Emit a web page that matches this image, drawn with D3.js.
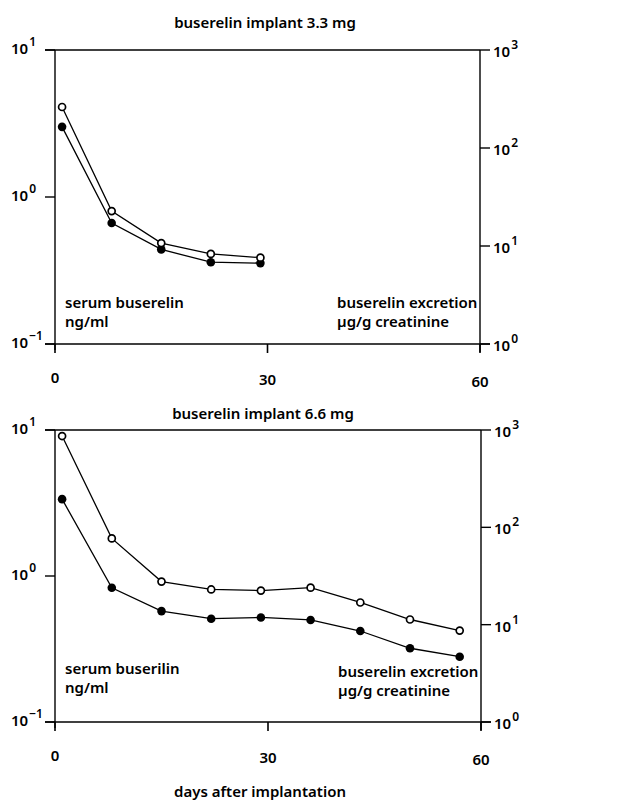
<!DOCTYPE html>
<html>
<head>
<meta charset="utf-8">
<script src="https://cdn.jsdelivr.net/npm/d3@7"></script>
<style>
  body { margin: 0; background: #fff; }
  svg { display: block; }
  text { font-family: "Noto Sans", "DejaVu Sans", sans-serif; fill: #000; font-weight: 600; }
</style>
</head>
<body>
<div id="chart"></div>
<script>
// days of sampling
const days33 = [1, 8, 15, 22, 29];
const days66 = [1, 8, 15, 22, 29, 36, 43, 50, 57];

// serum buserelin, ng/ml (filled circles, left axis)
const serum33 = [3.0, 0.665, 0.44, 0.36, 0.355];
const serum66 = [3.36, 0.83, 0.575, 0.51, 0.52, 0.50, 0.42, 0.32, 0.28];

// buserelin excretion, ug/g creatinine (open circles, right axis)
const excr33 = [262, 22.7, 10.7, 8.3, 7.6];
const excr66 = [867, 77, 27.7, 23, 22.4, 24, 16.9, 11.3, 8.7];

const xTicks = [0, 30, 60];
const leftTicks = [{ v: 10, e: '1' }, { v: 1, e: '0' }, { v: 0.1, e: '\u22121' }];
const rightTicks = [{ v: 1000, e: '3' }, { v: 100, e: '2' }, { v: 10, e: '1' }, { v: 1, e: '0' }];

const width = 628, height = 801;

const svg = d3.select('#chart')
  .append('svg')
  .attr('width', width)
  .attr('height', height);

function drawPanel(cfg) {
  const x = d3.scaleLinear().domain([0, 60]).range([cfg.left, cfg.right]);
  const yL = d3.scaleLog().domain([0.1, 10]).range([cfg.bottom, cfg.top]);
  const yR = d3.scaleLog().domain([1, 1000]).range([cfg.bottom, cfg.top]);

  const g = svg.append('g');

  // title
  g.append('text')
    .attr('x', cfg.titleX)
    .attr('y', cfg.titleY)
    .attr('text-anchor', 'middle')
    .style('font-size', '15px')
    .text(cfg.title);

  // frame: top, bottom, left, right
  g.append('line')
    .attr('x1', cfg.left - 10).attr('x2', cfg.right)
    .attr('y1', yL(10)).attr('y2', yL(10))
    .attr('stroke', '#000').attr('stroke-width', 1.6);
  g.append('line')
    .attr('x1', cfg.left - 10).attr('x2', cfg.right + 10)
    .attr('y1', yL(0.1)).attr('y2', yL(0.1))
    .attr('stroke', '#000').attr('stroke-width', 1.6);
  g.append('line')
    .attr('x1', cfg.left).attr('x2', cfg.left)
    .attr('y1', yL(10)).attr('y2', yL(0.1) + 6)
    .attr('stroke', '#000').attr('stroke-width', 1.4);
  g.append('line')
    .attr('x1', cfg.right).attr('x2', cfg.right)
    .attr('y1', yR(1000)).attr('y2', yR(1) + 8)
    .attr('stroke', '#000').attr('stroke-width', 1.4);

  // left ticks
  g.selectAll('.ltick').data(leftTicks).enter()
    .append('line')
    .attr('x1', cfg.left - 10).attr('x2', cfg.left)
    .attr('y1', d => yL(d.v)).attr('y2', d => yL(d.v))
    .attr('stroke', '#000').attr('stroke-width', 1.4);

  const lt = g.selectAll('.llab').data(leftTicks).enter()
    .append('text')
    .attr('x', 11)
    .attr('y', d => yL(d.v) + 4)
    .style('font-size', '15px');
  lt.append('tspan').text('10');
  lt.append('tspan').attr('dx', 1).attr('dy', -8).style('font-size', '12px').text(d => d.e);

  // right ticks
  g.selectAll('.rtick').data(rightTicks).enter()
    .append('line')
    .attr('x1', cfg.right).attr('x2', cfg.right + 10)
    .attr('y1', d => yR(d.v)).attr('y2', d => yR(d.v))
    .attr('stroke', '#000').attr('stroke-width', 1.4);

  const rt = g.selectAll('.rlab').data(rightTicks).enter()
    .append('text')
    .attr('x', cfg.right + 13)
    .attr('y', d => yR(d.v) + 7)
    .style('font-size', '15px');
  rt.append('tspan').text('10');
  rt.append('tspan').attr('dx', 1).attr('dy', -8).style('font-size', '12px').text(d => d.e);

  // x ticks
  g.selectAll('.xtick').data(xTicks).enter()
    .append('line')
    .attr('x1', d => x(d)).attr('x2', d => x(d))
    .attr('y1', yL(0.1)).attr('y2', yL(0.1) + 9)
    .attr('stroke', '#000').attr('stroke-width', 1.6);

  g.selectAll('.xlab').data(xTicks).enter()
    .append('text')
    .attr('x', d => x(d))
    .attr('y', (d, i) => yL(0.1) + cfg.xLabDy + i * 2)
    .attr('text-anchor', 'middle')
    .style('font-size', '15px')
    .text(d => d);

  // inner labels
  const lab = (txt, xx, yy) => g.append('text')
    .attr('x', xx).attr('y', yy)
    .style('font-size', '15px')
    .text(txt);
  lab(cfg.serumLabel, cfg.left + 10, cfg.labY1);
  lab('ng/ml', cfg.left + 10, cfg.labY2);
  lab('buserelin excretion', cfg.right - 143, cfg.labY1 + cfg.rLabDy);
  lab('\u00b5g/g creatinine', cfg.right - 143, cfg.labY2 + cfg.rLabDy);

  // series
  const lineL = d3.line().x(d => x(d[0])).y(d => yL(d[1]));
  const lineR = d3.line().x(d => x(d[0])).y(d => yR(d[1]));
  const sData = cfg.days.map((d, i) => [d, cfg.serum[i]]);
  const eData = cfg.days.map((d, i) => [d, cfg.excr[i]]);

  g.append('path').datum(eData)
    .attr('d', lineR).attr('fill', 'none')
    .attr('stroke', '#000').attr('stroke-width', 1.3);
  g.append('path').datum(sData)
    .attr('d', lineL).attr('fill', 'none')
    .attr('stroke', '#000').attr('stroke-width', 1.3);

  g.selectAll('.sdot').data(sData).enter()
    .append('circle')
    .attr('cx', d => x(d[0])).attr('cy', d => yL(d[1]))
    .attr('r', 4.3).attr('fill', '#000');

  g.selectAll('.edot').data(eData).enter()
    .append('circle')
    .attr('cx', d => x(d[0])).attr('cy', d => yR(d[1]))
    .attr('r', 3.5).attr('fill', '#fff')
    .attr('stroke', '#000').attr('stroke-width', 1.7);
}

drawPanel({
  title: 'buserelin implant  3.3 mg', titleX: 265, titleY: 28,
  top: 50, bottom: 344, left: 55, right: 480,
  days: days33, serum: serum33, excr: excr33,
  serumLabel: 'serum buserelin', labY1: 308, labY2: 327, rLabDy: 0,
  xLabDy: 39
});

drawPanel({
  title: 'buserelin implant 6.6 mg', titleX: 263, titleY: 419,
  top: 430, bottom: 722, left: 55, right: 481,
  days: days66, serum: serum66, excr: excr66,
  serumLabel: 'serum buserilin', labY1: 674, labY2: 693, rLabDy: 3,
  xLabDy: 39
});

svg.append('text')
  .attr('x', 260)
  .attr('y', 797)
  .attr('text-anchor', 'middle')
  .style('font-size', '15px')
  .text('days after implantation');
</script>
</body>
</html>
